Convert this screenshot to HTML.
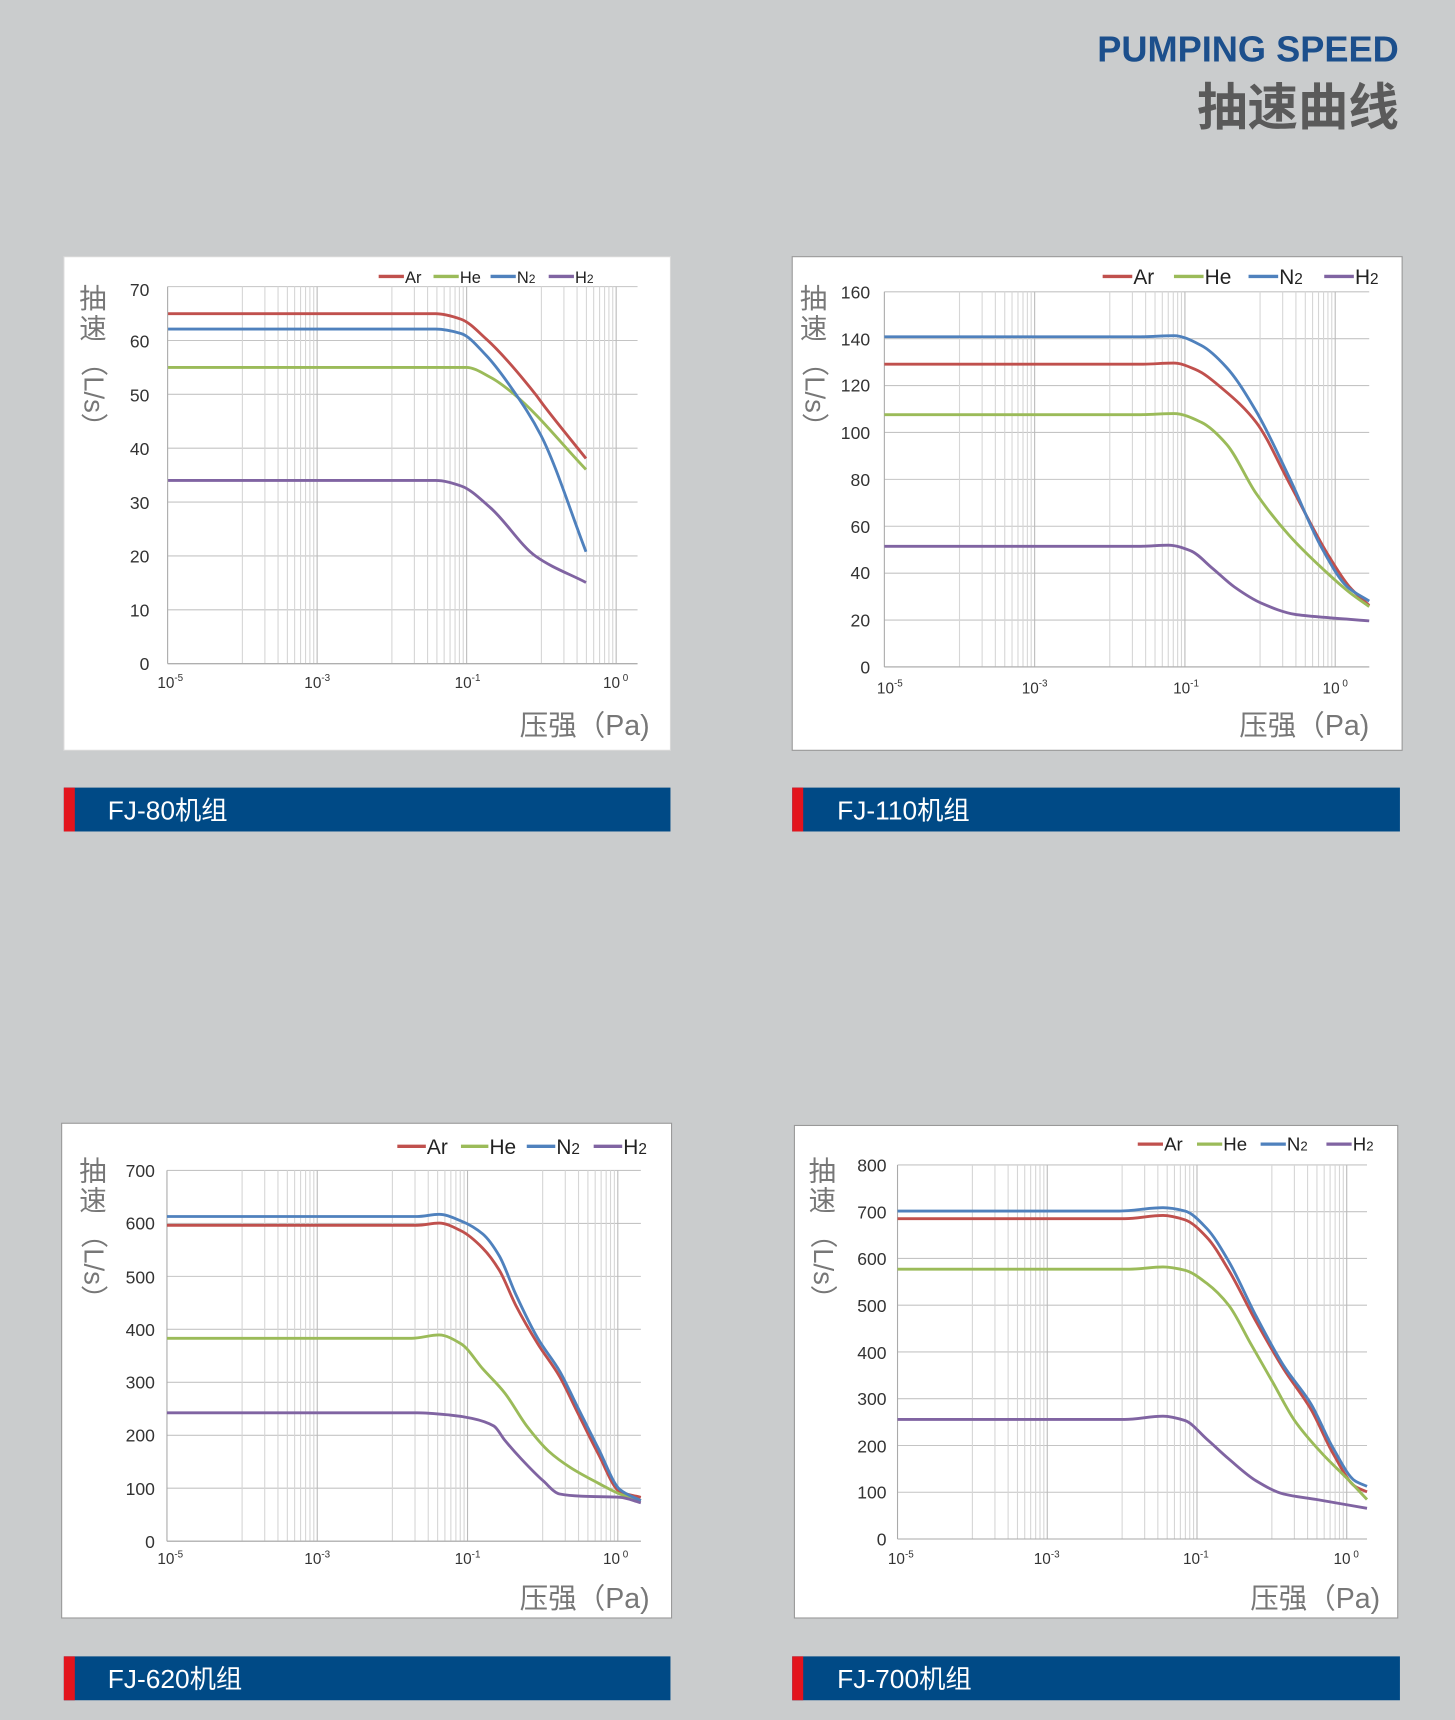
<!DOCTYPE html>
<html><head><meta charset="utf-8">
<style>
html,body{margin:0;padding:0;background:#cacccd;}
svg{display:block;}
text{font-family:"Liberation Sans","Noto Sans CJK SC",sans-serif;}
</style></head>
<body>
<svg id="s" width="1455" height="1720" viewBox="0 0 1326 1568" xmlns="http://www.w3.org/2000/svg">
<rect x="0" y="0" width="1326" height="1568" fill="#cacccd"/>
<text x="1275" y="56" text-anchor="end" font-size="33" font-weight="bold" fill="#1c4f8c">PUMPING SPEED</text>
<text x="1275" y="114" text-anchor="end" font-size="46" font-weight="bold" fill="#5a5a5a" style="font-family:'Noto Sans CJK SC',sans-serif">抽速曲线</text>

<rect x="58" y="234" width="553" height="450" fill="#fff" stroke="#d8d8d8"/>
<rect x="722" y="234" width="556" height="450" fill="#fff" stroke="#999"/>
<rect x="56" y="1024" width="556" height="451" fill="#fff" stroke="#999"/>
<rect x="724" y="1026" width="550" height="449" fill="#fff" stroke="#999"/>
<g id="grids"></g>
<g id="curves"></g>

<g fill="#333" font-size="16" text-anchor="end">
<text x="136" y="611">0</text><text x="136" y="562">10</text><text x="136" y="513">20</text><text x="136" y="464">30</text><text x="136" y="415">40</text><text x="136" y="366">50</text><text x="136" y="317">60</text><text x="136" y="270">70</text>
<text x="793" y="614">0</text><text x="793" y="571">20</text><text x="793" y="528">40</text><text x="793" y="486">60</text><text x="793" y="443">80</text><text x="793" y="400">100</text><text x="793" y="357">120</text><text x="793" y="315">140</text><text x="793" y="272">160</text>
<text x="141" y="1411">0</text><text x="141" y="1363">100</text><text x="141" y="1314">200</text><text x="141" y="1266">300</text><text x="141" y="1218">400</text><text x="141" y="1170">500</text><text x="141" y="1121">600</text><text x="141" y="1073">700</text>
<text x="808" y="1409">0</text><text x="808" y="1366">100</text><text x="808" y="1324">200</text><text x="808" y="1281">300</text><text x="808" y="1239">400</text><text x="808" y="1196">500</text><text x="808" y="1153">600</text><text x="808" y="1111">700</text><text x="808" y="1068">800</text>
</g>
<g fill="#333" font-size="14" text-anchor="middle">
<text x="155" y="627">10<tspan font-size="9" dy="-6">-5</tspan></text>
<text x="289" y="627">10<tspan font-size="9" dy="-6">-3</tspan></text>
<text x="426" y="627">10<tspan font-size="9" dy="-6">-1</tspan></text>
<text x="561" y="627">10<tspan font-size="9" dy="-6"> 0</tspan></text>
<text x="811" y="632">10<tspan font-size="9" dy="-6">-5</tspan></text>
<text x="943" y="632">10<tspan font-size="9" dy="-6">-3</tspan></text>
<text x="1081" y="632">10<tspan font-size="9" dy="-6">-1</tspan></text>
<text x="1217" y="632">10<tspan font-size="9" dy="-6"> 0</tspan></text>
<text x="155" y="1426">10<tspan font-size="9" dy="-6">-5</tspan></text>
<text x="289" y="1426">10<tspan font-size="9" dy="-6">-3</tspan></text>
<text x="426" y="1426">10<tspan font-size="9" dy="-6">-1</tspan></text>
<text x="561" y="1426">10<tspan font-size="9" dy="-6"> 0</tspan></text>
<text x="821" y="1426">10<tspan font-size="9" dy="-6">-5</tspan></text>
<text x="954" y="1426">10<tspan font-size="9" dy="-6">-3</tspan></text>
<text x="1090" y="1426">10<tspan font-size="9" dy="-6">-1</tspan></text>
<text x="1227" y="1426">10<tspan font-size="9" dy="-6"> 0</tspan></text>
</g>
<g fill="#777" font-size="26" text-anchor="end">
<text x="592" y="670">压强（Pa)</text>
<text x="1248" y="670">压强（Pa)</text>
<text x="592" y="1466">压强（Pa)</text>
<text x="1258" y="1466">压强（Pa)</text>
</g>
<g fill="#777" font-size="25">
<text x="72" y="281">抽</text><text x="72" y="308">速</text>
<text transform="translate(77,318) rotate(90)">（L/s）</text>
<text x="729" y="281">抽</text><text x="729" y="308">速</text>
<text transform="translate(734,318) rotate(90)">（L/s）</text>
<text x="72" y="1076">抽</text><text x="72" y="1103">速</text>
<text transform="translate(77,1113) rotate(90)">（L/s）</text>
<text x="737" y="1076">抽</text><text x="737" y="1103">速</text>
<text transform="translate(742,1113) rotate(90)">（L/s）</text>
</g>
<!-- legends -->
<g stroke-width="3">
<line x1="345" y1="252" x2="368" y2="252" stroke="#c0504d"/><line x1="395" y1="252" x2="418" y2="252" stroke="#9bbb59"/><line x1="447" y1="252" x2="470" y2="252" stroke="#4f81bd"/><line x1="500" y1="252" x2="523" y2="252" stroke="#8064a2"/>
<line x1="1005" y1="252" x2="1032" y2="252" stroke="#c0504d"/><line x1="1070" y1="252" x2="1097" y2="252" stroke="#9bbb59"/><line x1="1138" y1="252" x2="1165" y2="252" stroke="#4f81bd"/><line x1="1207" y1="252" x2="1234" y2="252" stroke="#8064a2"/>
<line x1="362" y1="1045" x2="388" y2="1045" stroke="#c0504d"/><line x1="420" y1="1045" x2="445" y2="1045" stroke="#9bbb59"/><line x1="480" y1="1045" x2="506" y2="1045" stroke="#4f81bd"/><line x1="541" y1="1045" x2="567" y2="1045" stroke="#8064a2"/>
<line x1="1037" y1="1043" x2="1060" y2="1043" stroke="#c0504d"/><line x1="1091" y1="1043" x2="1114" y2="1043" stroke="#9bbb59"/><line x1="1149" y1="1043" x2="1172" y2="1043" stroke="#4f81bd"/><line x1="1209" y1="1043" x2="1232" y2="1043" stroke="#8064a2"/>
</g>
<g fill="#222" font-size="15">
<text x="369" y="258">Ar</text><text x="419" y="258">He</text><text x="471" y="258">N<tspan font-size="11">2</tspan></text><text x="524" y="258">H<tspan font-size="11">2</tspan></text>
</g>
<g fill="#222" font-size="19">
<text x="1033" y="259">Ar</text><text x="1098" y="259">He</text><text x="1166" y="259">N<tspan font-size="14">2</tspan></text><text x="1235" y="259">H<tspan font-size="14">2</tspan></text>
<text x="389" y="1052">Ar</text><text x="446" y="1052">He</text><text x="507" y="1052">N<tspan font-size="14">2</tspan></text><text x="568" y="1052">H<tspan font-size="14">2</tspan></text>
</g>
<g fill="#222" font-size="17">
<text x="1061" y="1049">Ar</text><text x="1115" y="1049">He</text><text x="1173" y="1049">N<tspan font-size="12">2</tspan></text><text x="1233" y="1049">H<tspan font-size="12">2</tspan></text>
</g>
<!-- banners -->
<rect x="58" y="718" width="553" height="40" fill="#004a86"/><rect x="58" y="718" width="10" height="40" fill="#e3141d"/>
<rect x="722" y="718" width="554" height="40" fill="#004a86"/><rect x="722" y="718" width="10" height="40" fill="#e3141d"/>
<rect x="58" y="1510" width="553" height="40" fill="#004a86"/><rect x="58" y="1510" width="10" height="40" fill="#e3141d"/>
<rect x="722" y="1510" width="554" height="40" fill="#004a86"/><rect x="722" y="1510" width="10" height="40" fill="#e3141d"/>
<g fill="#fff" font-size="24">
<text x="98" y="747">FJ-80机组</text>
<text x="763" y="747">FJ-110机组</text>
<text x="98" y="1539">FJ-620机组</text>
<text x="763" y="1539">FJ-700机组</text>
</g>
</svg>
<script>
var NS="http://www.w3.org/2000/svg";
function el(p,t,a){var e=document.createElementNS(NS,t);for(var k in a)e.setAttribute(k,a[k]);p.appendChild(e);return e;}
var G=document.getElementById('grids'),C=document.getElementById('curves');
var charts=[
{x0:152.6,W:136.3,xr:581,yb:605,yt:261.3,n:7},
{x0:806,W:137,xr:1248,yb:608,yt:266,n:8},
{x0:152,W:137,xr:584,yb:1405,yt:1067,n:7},
{x0:818,W:136.5,xr:1246,yb:1403,yt:1062,n:8}];
charts.forEach(function(c){
 for(var i=0;i<=c.n;i++){var y=c.yb-(c.yb-c.yt)*i/c.n;el(G,'line',{x1:c.x0,x2:c.xr,y1:y,y2:y,stroke:'#c4c4c4','stroke-width':1});}
 for(var d=0;d<3;d++){for(var k=1;k<=10;k++){var x=c.x0+c.W*d+c.W*(0.5+Math.log10(k)/2);
   el(G,'line',{x1:x,x2:x,y1:c.yt,y2:c.yb,stroke:k==10?'#bbb':'#d6d6d6','stroke-width':1});}}
 el(G,'line',{x1:c.x0,x2:c.x0,y1:c.yt,y2:c.yb,stroke:'#aaa','stroke-width':1});
 el(G,'line',{x1:c.x0,x2:c.xr,y1:c.yb,y2:c.yb,stroke:'#aaa','stroke-width':1});
});
function path(p,col){
 var n=p.length,h=[],s=[],m=[];
 for(var i=0;i<n-1;i++){h[i]=p[i+1][0]-p[i][0];s[i]=(p[i+1][1]-p[i][1])/h[i];}
 m[0]=s[0];m[n-1]=s[n-2];
 for(i=1;i<n-1;i++){ if(s[i-1]*s[i]<=0) m[i]=0; else {var w1=2*h[i]+h[i-1],w2=h[i]+2*h[i-1];m[i]=(w1+w2)/(w1/s[i-1]+w2/s[i]);}}
 var d='M'+p[0][0]+','+p[0][1];
 for(i=0;i<n-1;i++){var dx=h[i]/3;
  d+=' C'+(p[i][0]+dx)+','+(p[i][1]+m[i]*dx)+' '+(p[i+1][0]-dx)+','+(p[i+1][1]-m[i+1]*dx)+' '+p[i+1][0]+','+p[i+1][1];}
 el(C,'path',{d:d,fill:'none',stroke:col,'stroke-width':2.6,'stroke-linejoin':'round'});}
var R='#c0504d',Gn='#9bbb59',B='#4f81bd',P='#8064a2';
// chart1
path([[153,286],[397,286],[420,291],[443,309],[488,359.5],[495,369],[534,418]],R);
path([[153,335],[425,335],[447,344],[468,359],[534,428]],Gn);
path([[153,300],[397,300],[420,304],[443,324],[467,355],[493,397],[534,503]],B);
path([[153,438],[397,438],[420,443],[447,463],[488,507],[534,531]],P);
// chart2
path([[806,332],[1040,332],[1070,331],[1090,337],[1115,355],[1145,385],[1175,440],[1210,505],[1230,535],[1248,552]],R);
path([[806,378],[1040,378],[1070,377],[1095,385],[1118,405],[1145,450],[1175,488],[1205,518],[1230,540],[1248,553]],Gn);
path([[806,307],[1040,307],[1070,306],[1095,315],[1118,335],[1145,375],[1175,435],[1205,500],[1228,535],[1248,548]],B);
path([[806,498],[1040,498],[1065,497],[1085,502],[1105,518],[1125,535],[1150,550],[1180,560],[1210,563],[1248,566]],P);
// chart3
path([[152,1117],[380,1117],[400,1115],[420,1122],[440,1138],[455,1158],[470,1190],[490,1225],[510,1255],[525,1285],[545,1325],[565,1360],[584,1365]],R);
path([[152,1220],[375,1220],[400,1217],[420,1225],[440,1248],[460,1270],[480,1300],[500,1323],[520,1338],[545,1352],[565,1362],[584,1368]],Gn);
path([[152,1109],[380,1109],[400,1107],[420,1113],[440,1125],[455,1145],[470,1180],[490,1220],[510,1250],[525,1280],[545,1320],[565,1358],[584,1368]],B);
path([[152,1288],[380,1288],[410,1290],[430,1293],[450,1300],[460,1313],[475,1330],[495,1350],[510,1362],[530,1364],[565,1365],[584,1370]],P);
// chart4
path([[818,1111],[1025,1111],[1060,1108],[1080,1112],[1100,1128],[1120,1158],[1145,1205],[1170,1248],[1195,1285],[1215,1325],[1235,1355],[1246,1360]],R);
path([[818,1157],[1030,1157],[1060,1155],[1080,1158],[1100,1170],[1120,1190],[1140,1225],[1160,1260],[1180,1295],[1205,1325],[1230,1350],[1246,1367]],Gn);
path([[818,1104],[1020,1104],[1060,1101],[1080,1104],[1100,1120],[1120,1150],[1145,1200],[1170,1245],[1195,1280],[1215,1320],[1235,1350],[1246,1355]],B);
path([[818,1294],[1025,1294],[1060,1291],[1080,1295],[1100,1312],[1120,1330],[1145,1350],[1170,1362],[1200,1367],[1246,1375]],P);
</script>
</body></html>
